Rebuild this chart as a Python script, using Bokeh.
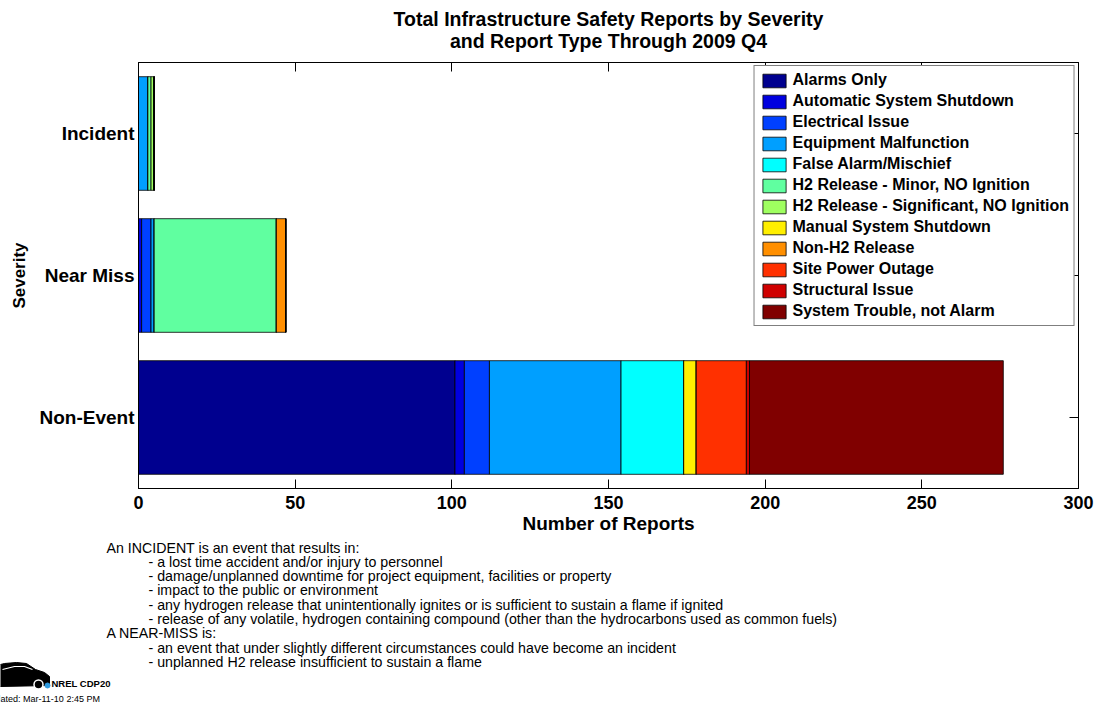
from bokeh.plotting import figure
from bokeh.layouts import column
from bokeh.models import ColumnDataSource, FixedTicker, LinearAxis, Range1d
from bokeh.core.properties import value
from bokeh.embed import file_html
from bokeh.resources import INLINE

# ---------------- data ----------------
severity = ["Incident", "Near Miss", "Non-Event"]
severity_pos = [3, 2, 1]

report_types = [
    "Alarms Only",
    "Automatic System Shutdown",
    "Electrical Issue",
    "Equipment Malfunction",
    "False Alarm/Mischief",
    "H2 Release - Minor, NO Ignition",
    "H2 Release - Significant, NO Ignition",
    "Manual System Shutdown",
    "Non-H2 Release",
    "Site Power Outage",
    "Structural Issue",
    "System Trouble, not Alarm",
]
colors = ["#00008F", "#0000DF", "#0040FF", "#009FFF", "#00FFFF", "#60FFA0",
          "#9FFF60", "#FFEF00", "#FF8F00", "#FF3000", "#CF0000", "#800000"]

# values per severity: [Incident, Near Miss, Non-Event]
alarms_only = [0, 0, 101]
automatic_shutdown = [0, 1, 3]
electrical_issue = [0, 3, 8]
equipment_malfunction = [3, 1, 42]
false_alarm = [0, 0, 20]
h2_minor = [1, 39, 0]
h2_significant = [1, 0, 0]
manual_shutdown = [0, 0, 4]
non_h2_release = [0, 3, 0]
site_power_outage = [0, 0, 16]
structural_issue = [0, 0, 1]
system_trouble = [0, 0, 81]

x_ticks = [0, 50, 100, 150, 200, 250, 300]

title_lines = ["Total Infrastructure Safety Reports by Severity",
               "and Report Type Through 2009 Q4"]
notes_lines = [
    ("An INCIDENT is an event that results in:", 0),
    ("- a lost time accident and/or injury to personnel", 1),
    ("- damage/unplanned downtime for project equipment, facilities or property", 1),
    ("- impact to the public or environment", 1),
    ("- any hydrogen release that unintentionally ignites or is sufficient to sustain a flame if ignited", 1),
    ("- release of any volatile, hydrogen containing compound (other than the hydrocarbons used as common fuels)", 1),
    ("A NEAR-MISS is:", 0),
    ("- an event that under slightly different circumstances could have become an incident", 1),
    ("- unplanned H2 release insufficient to sustain a flame", 1),
]
logo_title = "NREL CDP20"
logo_date = "Updated: Mar-11-10  2:45 PM"

series = [alarms_only, automatic_shutdown, electrical_issue, equipment_malfunction,
          false_alarm, h2_minor, h2_significant, manual_shutdown, non_h2_release,
          site_power_outage, structural_issue, system_trouble]

data = {"y": severity_pos}
for name, vals in zip(report_types, series):
    data[name] = vals
src = ColumnDataSource(data)

FONT = "Liberation Sans"
W = 1099
FL, FW, FR = 138, 940, 21
TITLE_H = 52
FT, FH, FB = 10, 426, 52
NOTES_TOP = TITLE_H + FT + FH + FB
NOTES_H = 706 - NOTES_TOP


def no_align(f):
    try:
        f.frame_align = False
    except AttributeError:
        pass


def blank_fig(height, y_top):
    f = figure(width=W, height=height, x_range=Range1d(0, W),
               y_range=Range1d(y_top + height, y_top),
               x_axis_type=None, y_axis_type=None, toolbar_location=None,
               output_backend="svg", min_border=0)
    f.outline_line_color = None
    f.background_fill_color = "white"
    f.border_fill_color = "white"
    no_align(f)
    return f


# ---------------- title ----------------
pt = blank_fig(TITLE_H, 0)
cx = FL + FW / 2
pt.text(x=[cx, cx], y=[18, 40], text=title_lines, text_font=value(FONT),
        text_font_style="bold", text_font_size=value("19.5px"),
        text_align="center", text_baseline="middle", text_color="black")

# ---------------- main chart ----------------
p = figure(frame_width=FW, frame_height=FH,
           min_border_left=FL, min_border_right=FR,
           min_border_top=FT, min_border_bottom=FB,
           x_range=Range1d(0, 300), y_range=Range1d(0.5, 3.5),
           output_backend="svg", toolbar_location=None)
no_align(p)
p.background_fill_color = "white"
p.border_fill_color = "white"
p.outline_line_color = "black"
p.outline_line_width = 1
p.xgrid.visible = False
p.ygrid.visible = False

p.hbar_stack(report_types, y="y", height=0.8, source=src, color=colors,
             line_color="black", line_width=0.8, legend_label=report_types)

xa = p.xaxis[0]
xa.ticker = FixedTicker(ticks=x_ticks)
xa.major_tick_in = 9
xa.major_tick_out = 0
xa.minor_tick_line_color = None
xa.axis_line_color = "black"
xa.major_label_text_font = FONT
xa.major_label_text_font_style = "bold"
xa.major_label_text_font_size = "18px"
xa.major_label_text_color = "black"
xa.major_label_standoff = 7
xa.axis_label = "Number of Reports"
xa.axis_label_text_font = FONT
xa.axis_label_text_font_style = "bold"
xa.axis_label_text_font_size = "19px"
xa.axis_label_text_color = "black"
xa.axis_label_standoff = 1

ya = p.yaxis[0]
ya.ticker = FixedTicker(ticks=severity_pos)
ya.major_label_overrides = {pos: name for pos, name in zip(severity_pos, severity)}
ya.major_tick_line_color = None
ya.major_tick_in = 0
ya.major_tick_out = 0
ya.minor_tick_line_color = None
ya.axis_line_color = "black"
ya.major_label_text_font = FONT
ya.major_label_text_font_style = "bold"
ya.major_label_text_font_size = "19px"
ya.major_label_text_color = "black"
ya.major_label_standoff = 4
ya.axis_label = "Severity"
ya.axis_label_text_font = FONT
ya.axis_label_text_font_style = "bold"
ya.axis_label_text_font_size = "17px"
ya.axis_label_text_color = "black"
ya.axis_label_standoff = 8

# mirrored tick marks on top and right (no labels drawn)
top = LinearAxis(ticker=FixedTicker(ticks=x_ticks), major_tick_in=9, major_tick_out=0,
                 minor_tick_line_color=None, major_label_text_font_size="1px",
                 major_label_text_alpha=0, major_label_text_color=None,
                 major_label_standoff=0, axis_line_color="black")
p.add_layout(top, "above")
right = LinearAxis(ticker=FixedTicker(ticks=severity_pos), major_tick_in=9, major_tick_out=0,
                   minor_tick_line_color=None, major_label_text_font_size="1px",
                   major_label_text_alpha=0, major_label_text_color=None,
                   major_label_standoff=0, axis_line_color="black")
p.add_layout(right, "right")

lg = p.legend[0]
lg.location = "top_right"
lg.margin = 3
lg.padding = 5
lg.spacing = 3
lg.glyph_width = 29
lg.glyph_height = 17
lg.label_height = 17
lg.label_standoff = 4
lg.label_text_font = FONT
lg.label_text_font_style = "bold"
lg.label_text_font_size = "16px"
lg.label_text_color = "black"
lg.border_line_color = "black"
lg.border_line_width = 1
lg.background_fill_color = "white"
lg.background_fill_alpha = 1.0

# ---------------- notes ----------------
pn = blank_fig(NOTES_H, NOTES_TOP)
y0, dy = 547, 14.3
nx = [106 if indent == 0 else 148 for _, indent in notes_lines]
ny = [y0 + i * dy for i in range(len(notes_lines))]
pn.text(x=nx, y=ny, text=[t for t, _ in notes_lines], text_font=value(FONT),
        text_font_size=value("14.2px"), text_align="left", text_baseline="middle",
        text_color="black")

# logo (decoration)
car_x = [-12, 4, 16, 26, 35, 44, 49, 49, 0, -12]
car_y = [667, 663, 662, 663, 669, 672, 676, 685, 686, 686]
pn.patch(car_x, car_y, color="black")
pn.line([2, 14, 24, 32], [669, 666, 666, 669], line_color="white", line_width=1.2)
pn.scatter([38], [684], marker="circle", size=9, fill_color="black",
           line_color="white", line_width=1.5)
pn.scatter([47], [685], marker="circle", size=5, fill_color="#2E9BE0",
           line_color="#2E9BE0")
pn.text(x=[51], y=[683], text=[logo_title], text_font=value(FONT), text_font_style="bold",
        text_font_size=value("9.5px"), text_align="left", text_baseline="middle",
        text_color="black")
pn.text(x=[-16.5], y=[698], text=[logo_date], text_font=value(FONT),
        text_font_size=value("9px"), text_align="left", text_baseline="middle",
        text_color="black")

layout = column(pt, p, pn, spacing=0)
open("out.html", "w").write(file_html(layout, INLINE))
